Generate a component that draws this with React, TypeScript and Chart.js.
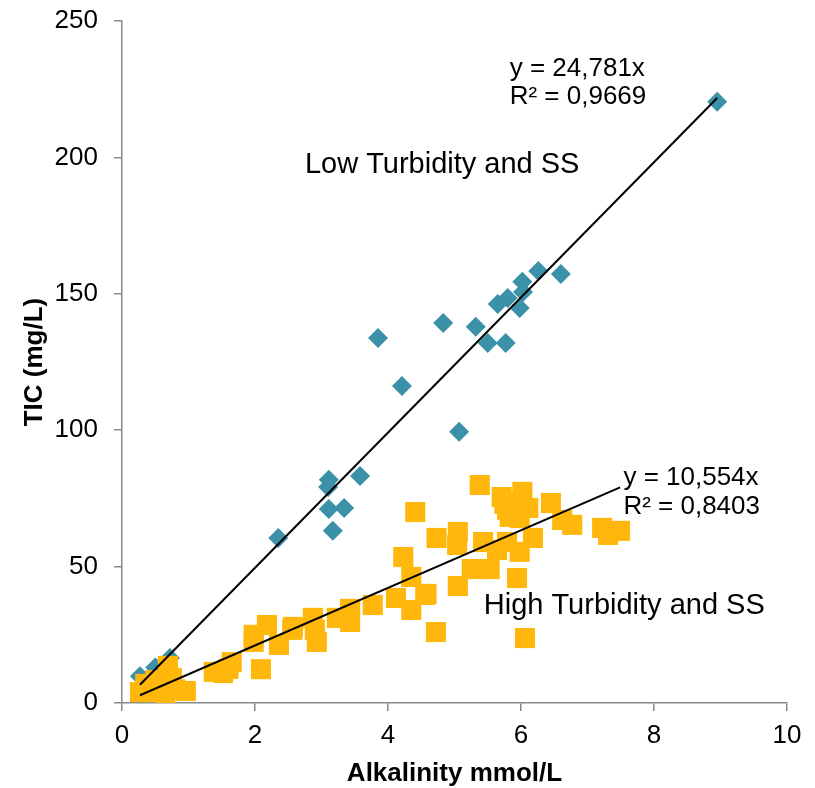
import React, { useEffect, useRef } from "react";
import { Chart, registerables } from "chart.js";

Chart.register(...registerables);

// Low turbidity and SS (alkalinity mmol/L, TIC mg/L)
const lowX = [8.95, 6.26, 6.6, 6.02, 6.03, 5.8, 5.65, 5.98, 5.32, 4.83, 3.85, 5.5, 5.77, 4.21, 5.07, 3.11, 3.1, 3.58, 3.11, 3.34, 3.17, 2.35, 0.27, 0.5, 0.72];
const lowY = [220.4, 158.4, 157.3, 154.4, 150.7, 148.5, 146.3, 144.8, 137.9, 139.3, 133.8, 132.0, 132.0, 116.2, 99.4, 81.8, 79.2, 83.2, 71.1, 71.5, 63.1, 60.5, 9.8, 13.0, 16.5];

// High turbidity and SS
const highX = [0.27, 0.42, 0.35, 0.5, 0.65, 0.69, 0.75, 0.96, 0.55, 0.8, 1.38, 1.52, 1.65, 1.6, 2.09, 1.98, 1.98, 2.18, 2.36, 2.56, 2.57, 2.87, 2.93, 2.9, 3.23, 3.43, 3.43, 3.77, 4.12, 4.35, 4.56, 4.35, 4.23, 4.72, 5.05, 4.41, 5.38, 5.71, 6.02, 5.79, 6.11, 5.83, 5.98, 6.45, 6.62, 6.77, 7.22, 7.49, 7.31, 4.73, 5.05, 5.04, 5.43, 5.79, 6.18, 5.98, 5.64, 5.26, 5.53, 5.94, 6.06, 4.58, 5.9, 5.75];
const highY = [4.0, 4.0, 7.0, 8.4, 3.7, 13.6, 9.2, 4.4, 5.5, 5.0, 11.4, 11.0, 15.0, 12.5, 12.4, 22.4, 25.0, 28.6, 21.3, 26.8, 27.9, 31.2, 22.4, 26.8, 31.2, 34.5, 29.7, 35.9, 38.5, 34.1, 39.6, 46.2, 53.5, 26.0, 42.9, 70.0, 79.9, 75.5, 77.4, 70.8, 71.5, 68.2, 67.8, 73.3, 67.1, 65.3, 64.2, 63.1, 61.6, 60.5, 62.7, 57.9, 59.0, 59.0, 60.5, 55.4, 56.1, 49.1, 49.1, 45.8, 23.8, 40.0, 73.5, 73.0];

// Trend lines through the origin
const lowSlope = 24.781;
const highSlope = 10.554;

const xTicks = [0, 2, 4, 6, 8, 10];
const yTicks = [0, 50, 100, 150, 200, 250];

// Text annotations [text, x, y, font size]
const annotations: [string, number, number, number][] = [
  ["y = 24,781x", 5.83, 232.4, 26],
  ["R² = 0,9669", 5.83, 222.1, 26],
  ["Low Turbidity and SS", 2.75, 197.1, 29],
  ["y = 10,554x", 7.54, 82.6, 26],
  ["R² = 0,8403", 7.54, 71.9, 26],
  ["High Turbidity and SS", 5.44, 35.4, 29],
];

const FONT = "'Liberation Sans', Arial, sans-serif";
const TEAL = "rgb(59,145,168)";
const GOLD = "rgb(255,183,12)";
const AXIS = "rgb(137,137,137)";

const toPts = (xs: number[], ys: number[]) => xs.map((x, i) => ({ x, y: ys[i] }));
const trend = (xs: number[], k: number) => {
  const a = Math.min(...xs);
  const b = Math.max(...xs);
  return [{ x: a, y: a * k }, { x: b, y: b * k }];
};

const annotationPlugin = {
  id: "textAnnotations",
  afterDatasetsDraw(chart: any) {
    const { ctx, scales } = chart;
    ctx.save();
    ctx.fillStyle = "#000";
    ctx.textAlign = "left";
    ctx.textBaseline = "middle";
    for (const [t, x, y, size] of annotations) {
      ctx.font = `${size}px ${FONT}`;
      ctx.fillText(t, scales.x.getPixelForValue(x), scales.y.getPixelForValue(y));
    }
    ctx.restore();
  },
};

export default function App() {
  const ref = useRef<HTMLCanvasElement | null>(null);
  useEffect(() => {
    if (!ref.current) return;
    const chart = new Chart(ref.current, {
      type: "scatter",
      data: {
        datasets: [
          {
            label: "trend low",
            data: trend(lowX, lowSlope),
            showLine: true,
            borderColor: "#000",
            borderWidth: 2,
            pointRadius: 0,
            order: 0,
          } as any,
          {
            label: "trend high",
            data: trend(highX, highSlope),
            showLine: true,
            borderColor: "#000",
            borderWidth: 2,
            pointRadius: 0,
            order: 0,
          },
          {
            label: "High",
            data: toPts(highX, highY),
            pointStyle: "rect",
            pointRadius: 14.2,
            backgroundColor: GOLD,
            borderColor: GOLD,
            borderWidth: 0,
            order: 1,
          },
          {
            label: "Low",
            data: toPts(lowX, lowY),
            pointStyle: "rectRot",
            pointRadius: 10,
            backgroundColor: TEAL,
            borderColor: TEAL,
            borderWidth: 0,
            order: 2,
          },
        ],
      },
      options: {
        animation: false,
        responsive: false,
        devicePixelRatio: 1,
        layout: { padding: { top: 21, right: 28, left: 0, bottom: 0 } },
        plugins: { legend: { display: false }, tooltip: { enabled: false } },
        scales: {
          x: {
            type: "linear",
            min: 0,
            max: 10,
            afterFit: (s: any) => { s.height = 85; s.paddingLeft = 0; s.paddingRight = 0; },
            afterBuildTicks: (s: any) => { s.ticks = xTicks.map((v) => ({ value: v })); },
            grid: { drawOnChartArea: false, drawTicks: true, tickLength: 8, color: AXIS, lineWidth: 1.5 },
            border: { display: true, color: AXIS, width: 1.5 },
            ticks: { color: "#000", font: { family: FONT, size: 26 }, padding: 9, maxRotation: 0 },
            title: {
              display: true,
              text: "Alkalinity mmol/L",
              color: "#000",
              font: { family: FONT, size: 26, weight: "bold", lineHeight: 1 },
              padding: { top: 0, bottom: 1 },
            },
          },
          y: {
            type: "linear",
            min: 0,
            max: 250,
            afterFit: (s: any) => { s.width = 122; s.paddingTop = 0; s.paddingBottom = 0; },
            afterBuildTicks: (s: any) => { s.ticks = yTicks.map((v) => ({ value: v })); },
            grid: { drawOnChartArea: false, drawTicks: true, tickLength: 8, color: AXIS, lineWidth: 1.5 },
            border: { display: true, color: AXIS, width: 1.5 },
            ticks: { color: "#000", font: { family: FONT, size: 26 }, padding: 16 },
            title: {
              display: true,
              text: "TIC (mg/L)",
              color: "#000",
              font: { family: FONT, size: 26, weight: "bold", lineHeight: 1 },
              padding: { top: 22, bottom: 0 },
            },
          },
        },
      } as any,
      plugins: [annotationPlugin],
    });
    return () => chart.destroy();
  }, []);
  return (
    <div style={{ position: "absolute", left: 0, top: 0, width: 815, height: 788, background: "#fff" }}>
      <canvas ref={ref} width={815} height={788} style={{ display: "block", width: 815, height: 788 }} />
    </div>
  );
}
